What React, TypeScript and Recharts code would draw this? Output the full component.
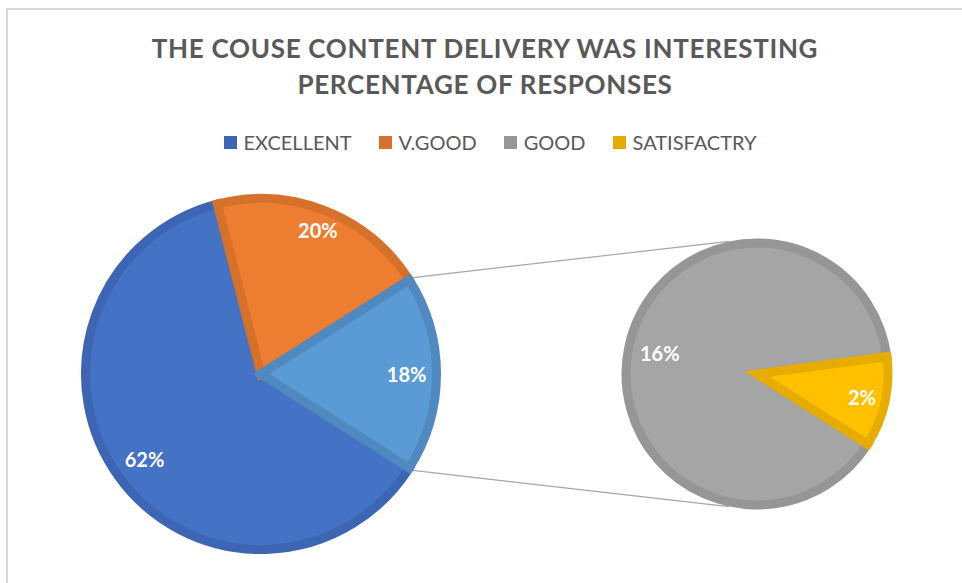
import React from "react";
import { PieChart, Pie, Cell } from "recharts";

const categories = ["EXCELLENT", "V.GOOD", "GOOD", "SATISFACTRY"];
const responses = [62, 20, 16, 2];
// how many of the last categories are moved into the second pie
const splitCount = 2;

const fills = ["#4472C4", "#ED7D31", "#A5A5A5", "#FFC000"];
const strokes = ["#3C66B4", "#D6712C", "#969696", "#E6AD00"];
const otherFill = "#5B9BD5";
const otherStroke = "#4F89BF";

const W = 962;
const H = 583;
const FONT = "Lato, 'Open Sans', sans-serif";
const RADIAN = Math.PI / 180;
const EDGE = 9;

const MAIN = { cx: 261, cy: 374, r: 175.5 };
const SEC = { cx: 757, cy: 374, r: 131 };

const mainCount = categories.length - splitCount;
const otherValue = responses.slice(mainCount).reduce((a, b) => a + b, 0);
const total = responses.reduce((a, b) => a + b, 0);

const mainData = [
  ...categories.slice(0, mainCount).map((name, i) => ({ name, value: responses[i], fill: fills[i], stroke: strokes[i] })),
  { name: "OTHER", value: otherValue, fill: otherFill, stroke: otherStroke },
];
const secData = categories.slice(mainCount).map((name, i) => ({
  name,
  value: responses[mainCount + i],
  fill: fills[mainCount + i],
  stroke: strokes[mainCount + i],
}));

// the split slice is centred on the right side
const half = (otherValue / total) * 180;
const startAngle = -half;
const endAngle = -half - 360;

// label distance from centre, as part of the radius (Excel "best fit")
const makeLabel = (fracs: number[]) => (props: any) => {
  const { cx, cy, midAngle, outerRadius, value, index } = props;
  const r = outerRadius * fracs[index];
  const x = cx + r * Math.cos(-midAngle * RADIAN);
  const y = cy + r * Math.sin(-midAngle * RADIAN);
  return (
    <text x={x} y={y} fill="#fff" fontFamily={FONT} fontWeight={700} fontSize={20} textAnchor="middle" dominantBaseline="central">
      {value}%
    </text>
  );
};

const polar = (c: { cx: number; cy: number }, r: number, deg: number) => [
  c.cx + r * Math.cos(deg * RADIAN),
  c.cy - r * Math.sin(deg * RADIAN),
];

export default function App() {
  const [ax, ay] = polar(MAIN, MAIN.r + EDGE / 2, half);
  const [bx, by] = polar(MAIN, MAIN.r + EDGE / 2, -half);
  const [tx, ty] = polar(SEC, SEC.r + EDGE / 2, 102);
  const [ux, uy] = polar(SEC, SEC.r + EDGE / 2, 258);

  return (
    <div style={{ position: "relative", width: W, height: H, overflow: "hidden", background: "#fff", fontFamily: FONT }}>
      <style>{"body{margin:0;overflow:hidden}"}</style>
      <div
        style={{
          position: "absolute",
          left: 6,
          top: 8,
          width: 980,
          height: 600,
          border: "2px solid #d9d9d9",
          boxSizing: "border-box",
        }}
      />
      <div
        style={{
          position: "absolute",
          left: 0,
          top: 30,
          width: 970,
          textAlign: "center",
          color: "#595959",
          fontWeight: 700,
          fontSize: 26,
          letterSpacing: 0.7,
          lineHeight: "36px",
        }}
      >
        <div>THE COUSE CONTENT DELIVERY WAS INTERESTING</div>
        <div>PERCENTAGE OF RESPONSES</div>
      </div>
      <div
        style={{
          position: "absolute",
          left: 0,
          top: 130,
          width: 980,
          display: "flex",
          justifyContent: "center",
          gap: 27,
          color: "#595959",
          fontSize: 20,
          lineHeight: "24px",
        }}
      >
        {categories.map((c, i) => (
          <div key={c} style={{ display: "flex", alignItems: "center" }}>
            <span style={{ width: 13, height: 13, background: strokes[i], marginRight: 7, display: "inline-block" }} />
            {c}
          </div>
        ))}
      </div>
      <svg width={W} height={H} style={{ position: "absolute", left: 0, top: 0 }}>
        <line x1={ax} y1={ay} x2={tx} y2={ty} stroke="#a6a6a6" strokeWidth={1.2} />
        <line x1={bx} y1={by} x2={ux} y2={uy} stroke="#a6a6a6" strokeWidth={1.2} />
      </svg>
      <div style={{ position: "absolute", left: 0, top: 0 }}>
        <PieChart width={W} height={H} margin={{ top: 0, right: 0, bottom: 0, left: 0 }}>
          <Pie
            data={mainData}
            dataKey="value"
            nameKey="name"
            cx={MAIN.cx}
            cy={MAIN.cy}
            outerRadius={MAIN.r}
            startAngle={startAngle}
            endAngle={endAngle}
            label={makeLabel([0.82, 0.88, 0.83])}
            labelLine={false}
            isAnimationActive={false}
          >
            {mainData.map((d) => (
              <Cell key={d.name} fill={d.fill} stroke={d.stroke} strokeWidth={EDGE} strokeLinejoin="miter" />
            ))}
          </Pie>
          <Pie
            data={secData}
            dataKey="value"
            nameKey="name"
            cx={SEC.cx}
            cy={SEC.cy}
            outerRadius={SEC.r}
            startAngle={startAngle}
            endAngle={endAngle}
            label={makeLabel([0.76, 0.82])}
            labelLine={false}
            isAnimationActive={false}
          >
            {secData.map((d) => (
              <Cell key={d.name} fill={d.fill} stroke={d.stroke} strokeWidth={EDGE} strokeLinejoin="miter" />
            ))}
          </Pie>
        </PieChart>
      </div>
    </div>
  );
}
